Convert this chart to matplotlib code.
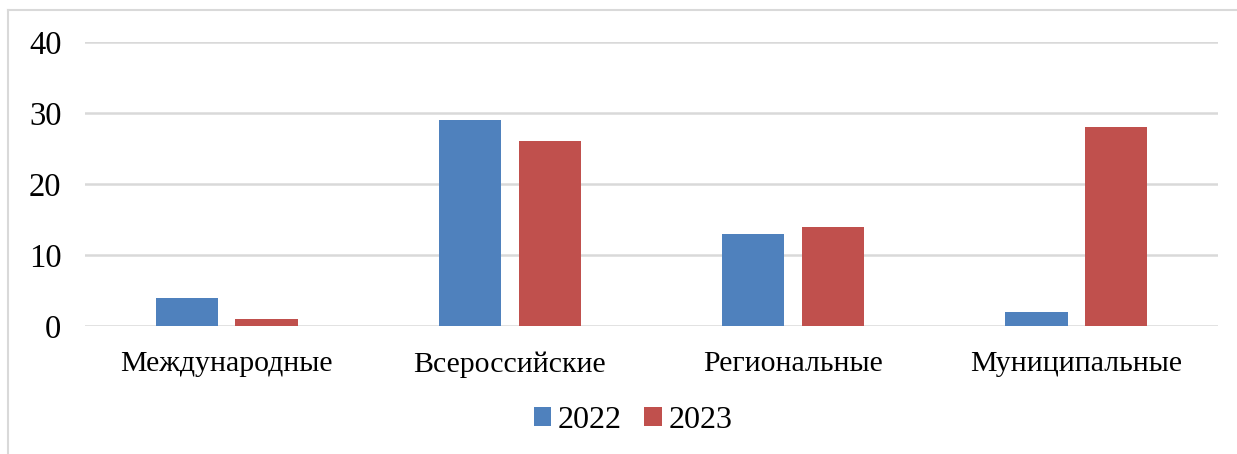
import matplotlib.pyplot as plt
import numpy as np

categories = ['Международные', 'Всероссийские', 'Региональные', 'Муниципальные']
values_2022 = [4, 29, 13, 2]
values_2023 = [1, 26, 14, 28]
series_labels = ['2022', '2023']

plt.rcParams['font.family'] = ['Liberation Serif', 'DejaVu Serif']

fig = plt.figure(figsize=(12.37, 4.54), dpi=100)
ax = fig.add_axes([85 / 1237, 1 - 326 / 454, (1218 - 85) / 1237, (326 - 42) / 454])

x = np.arange(len(categories))
width = 0.22
offset = 0.141
ax.bar(x - offset, values_2022, width, color='#4F81BD', label=series_labels[0], zorder=3)
ax.bar(x + offset, values_2023, width, color='#C0504D', label=series_labels[1], zorder=3)

ax.set_xlim(-0.5, len(categories) - 0.5)
ax.set_ylim(0, 40)
ax.set_yticks([0, 10, 20, 30, 40])
ax.set_xticks(x)
ax.set_xticklabels(categories)
ax.tick_params(axis='both', length=0)
ax.tick_params(axis='y', pad=17, labelsize=23.5)
ax.tick_params(axis='x', pad=18, labelsize=21.5)
ax.yaxis.grid(True, color='#D9D9D9', linewidth=1.8, zorder=0)
for s in ax.spines.values():
    s.set_visible(False)

leg = fig.legend(loc='center', bbox_to_anchor=(633 / 1237, 1 - 420 / 454), ncol=2,
                 frameon=False, fontsize=23, handlelength=0.55, handleheight=0.55,
                 handletextpad=0.2, columnspacing=0.7)

# outer frame (top and left edges are visible in the reference)
fig.add_artist(plt.Line2D([8 / 1237, 1], [1 - 10 / 454, 1 - 10 / 454], color='#D9D9D9', lw=1.5))
fig.add_artist(plt.Line2D([8 / 1237, 8 / 1237], [0, 1 - 10 / 454], color='#D9D9D9', lw=1.5))

fig.savefig('out.png', dpi=100)
